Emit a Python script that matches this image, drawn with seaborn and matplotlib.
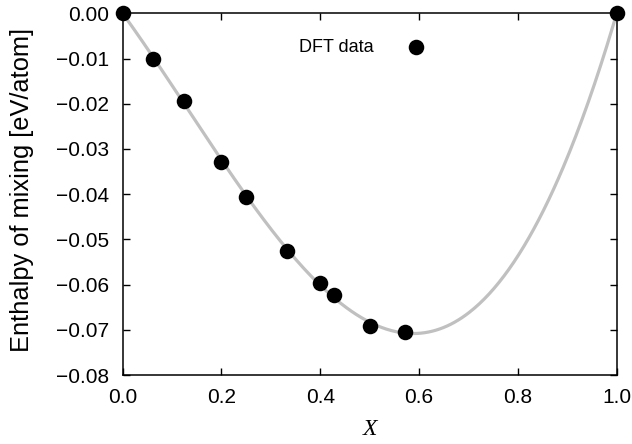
import numpy as np
import pandas as pd
import matplotlib
matplotlib.use("Agg")
import matplotlib.pyplot as plt
import seaborn as sns

# DFT mixing enthalpies (composition X, eV/atom)
x_dft = [0.0, 0.0625, 0.125, 0.2, 0.25, 1/3, 0.4, 3/7, 0.5, 4/7, 1.0]
h_dft = [0.0, -0.0100, -0.0194, -0.0328, -0.0406, -0.0525, -0.0597, -0.0623, -0.0692, -0.0705, 0.0]

x_ticks = [0.0, 0.2, 0.4, 0.6, 0.8, 1.0]
y_ticks = [0.00, -0.01, -0.02, -0.03, -0.04, -0.05, -0.06, -0.07, -0.08]

sns.set_style("ticks")
plt.rcParams["font.family"] = ["Liberation Sans", "DejaVu Sans"]
plt.rcParams["text.color"] = "black"
plt.rcParams["axes.labelcolor"] = "black"
plt.rcParams["xtick.color"] = "black"
plt.rcParams["ytick.color"] = "black"

# Redlich-Kister fit (three terms) to the DFT points
xd = np.array(x_dft)
hd = np.array(h_dft)
basis = np.column_stack([xd * (1 - xd) * (1 - 2 * xd) ** k for k in range(3)])
coef, *_ = np.linalg.lstsq(basis, hd, rcond=None)
xf = np.linspace(0, 1, 400)
hf = sum(c * xf * (1 - xf) * (1 - 2 * xf) ** k for k, c in enumerate(coef))
fit = pd.DataFrame({"X": xf, "H": hf})
dft = pd.DataFrame({"X": x_dft, "H": h_dft})

fig = plt.figure(figsize=(6.32, 4.44), dpi=100)
ax = fig.add_axes([0.194, 0.1554, 0.7818, 0.8146])

sns.lineplot(data=fit, x="X", y="H", ax=ax, color="#c0c0c0", linewidth=2.3,
             label="_fit", zorder=2)
sns.scatterplot(data=dft, x="X", y="H", ax=ax, color="black", s=125,
                edgecolor="black", linewidth=0, label="DFT data", zorder=3,
                clip_on=False)

ax.set_xlim(0, 1)
ax.set_ylim(-0.08, 0.0)
ax.set_xticks(x_ticks)
ax.set_xticklabels([f"{v:.1f}" for v in x_ticks])
ax.set_yticks(y_ticks)
ax.set_yticklabels([f"{v:.2f}".replace("-", "\u2212") for v in y_ticks])
ax.tick_params(direction="in", length=5, width=1, top=True, right=True,
               labelsize=15, colors="black")
ax.tick_params(axis="y", pad=10)
ax.tick_params(axis="x", pad=9)
for sp in ax.spines.values():
    sp.set_visible(True)
    sp.set_linewidth(1.1)
    sp.set_color("black")

ax.set_xlabel("X", fontsize=17, family=["Liberation Serif"], style="italic",
              va="center")
ax.set_ylabel("Enthalpy of mixing [eV/atom]", fontsize=18.3, va="center")
ax.xaxis.set_label_coords(0.5, -0.152)
ax.yaxis.set_label_coords(-0.204, 0.511)

ax.legend(loc="center left", bbox_to_anchor=(0.356, 0.905), frameon=False,
          markerfirst=False, fontsize=13, handletextpad=1.4, borderaxespad=0,
          borderpad=0)

fig.savefig("out.png", dpi=100)
